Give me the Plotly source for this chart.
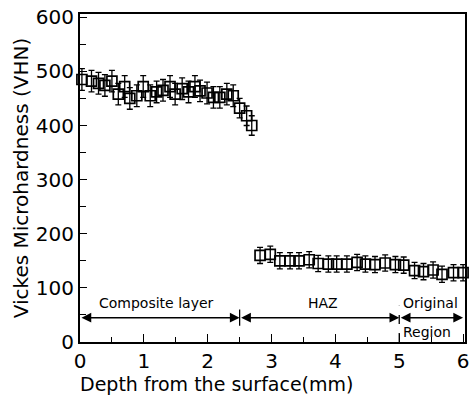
import plotly.graph_objects as go

# Composite layer data
x_comp = [0.03, 0.18, 0.29, 0.39, 0.50, 0.60, 0.70, 0.78, 0.89, 0.99, 1.10, 1.20, 1.30, 1.41,
          1.49, 1.60, 1.70, 1.80, 1.88, 1.99, 2.09, 2.19, 2.30, 2.40, 2.50, 2.61, 2.69]
y_comp = [485, 482, 478, 474, 482, 458, 472, 450, 455, 472, 455, 462, 465, 472,
          458, 468, 462, 472, 464, 460, 452, 452, 458, 455, 432, 418, 400]
e_comp = [20, 20, 20, 20, 20, 20, 20, 20, 20, 20, 20, 20, 20, 20,
          20, 20, 20, 20, 20, 20, 20, 20, 20, 20, 18, 18, 18]

# HAZ + original region data
x_haz = [2.82, 2.98, 3.13, 3.29, 3.43, 3.59, 3.73, 3.89, 4.02, 4.18, 4.34, 4.47, 4.62, 4.78,
         4.94, 5.07, 5.24, 5.38, 5.53, 5.67, 5.85, 6.00]
y_haz = [160, 162, 150, 150, 150, 152, 145, 144, 144, 144, 147, 144, 143, 146,
         143, 142, 132, 130, 133, 125, 128, 128]
e_haz = [15] * len(x_haz)

# Regions
region_bounds = [0, 2.5, 5, 6]
region_y = 45
region_names = ["Composite layer", "HAZ", "Original"]
region_extra = "Region"

x_ticks = [0, 1, 2, 3, 4, 5, 6]
y_ticks = [0, 100, 200, 300, 400, 500, 600]

FONT = "DejaVu Sans"

fig = go.Figure()
for xs, ys, es in [(x_comp, y_comp, e_comp), (x_haz, y_haz, e_haz)]:
    fig.add_trace(go.Scatter(
        x=xs, y=ys, mode="markers",
        marker=dict(symbol="square-open", size=10, color="black", line=dict(width=1.7)),
        error_y=dict(type="data", array=es, color="black", thickness=1.3, width=3),
        showlegend=False, cliponaxis=False,
    ))

# double-headed arrows for regions
for a, b in zip(region_bounds[:-1], region_bounds[1:]):
    fig.add_annotation(x=b, y=region_y, ax=a, ay=region_y, xref="x", yref="y",
                       axref="x", ayref="y", text="", showarrow=True,
                       arrowhead=2, arrowside="end+start", arrowsize=1.3,
                       arrowwidth=1.5, arrowcolor="black", standoff=0, startstandoff=0)

# boundary ticks
fig.add_shape(type="line", x0=region_bounds[1], x1=region_bounds[1], y0=region_y - 15,
              y1=region_y + 15, line=dict(color="black", width=1.3))
fig.add_shape(type="line", x0=region_bounds[2], x1=region_bounds[2], y0=0,
              y1=region_y + 22, line=dict(color="black", width=1.3, dash="dash"))

lab_font = dict(family=FONT, size=14, color="black")
fig.add_annotation(x=(region_bounds[0] + region_bounds[1]) / 2 - 0.05, y=region_y, yshift=15,
                   text=region_names[0], showarrow=False, font=lab_font)
fig.add_annotation(x=(region_bounds[1] + region_bounds[2]) / 2 + 0.05, y=region_y, yshift=15,
                   text=region_names[1], showarrow=False, font=lab_font)
fig.add_annotation(x=region_bounds[2] + 0.03, y=region_y, yshift=15, xanchor="left",
                   text=region_names[2], showarrow=False, font=lab_font)
fig.add_annotation(x=region_bounds[2] + 0.03, y=region_y, yshift=-14, xanchor="left",
                   text=region_extra, showarrow=False, font=lab_font)

# x axis title (placed slightly left of centre, as in the reference)
fig.add_annotation(x=0.355, y=0, xref="paper", yref="paper", yshift=-42, yanchor="middle",
                   text="Depth from the surface(mm)", showarrow=False,
                   font=dict(family=FONT, size=19, color="black"))

axis_common = dict(showline=True, linecolor="black", linewidth=2, mirror=True,
                   showgrid=False, zeroline=False, ticks="inside", tickcolor="black",
                   automargin=False,
                   tickfont=dict(family=FONT, size=20, color="black"))

fig.update_xaxes(range=[0, 6.03], tickvals=x_ticks, ticklen=8, tickwidth=1.3,
                 minor=dict(dtick=0.5, ticks="inside", ticklen=5, tickcolor="black", tickwidth=1.3),
                 **axis_common)
fig.update_yaxes(range=[0, 606], tickvals=y_ticks, ticklen=7, tickwidth=1.3,
                 minor=dict(dtick=50, ticks="inside", ticklen=6, tickcolor="black", tickwidth=1.3),
                 title=dict(text="Vickes Microhardness (VHN)", font=dict(family=FONT, size=20, color="black"), standoff=2),
                 **axis_common)

fig.update_layout(width=471, height=400, margin=dict(l=80, r=6, t=14, b=58),
                  plot_bgcolor="white", paper_bgcolor="white")

fig.write_html("out.html", config={"displayModeBar": False},
               post_script="document.body.style.margin='0';")
